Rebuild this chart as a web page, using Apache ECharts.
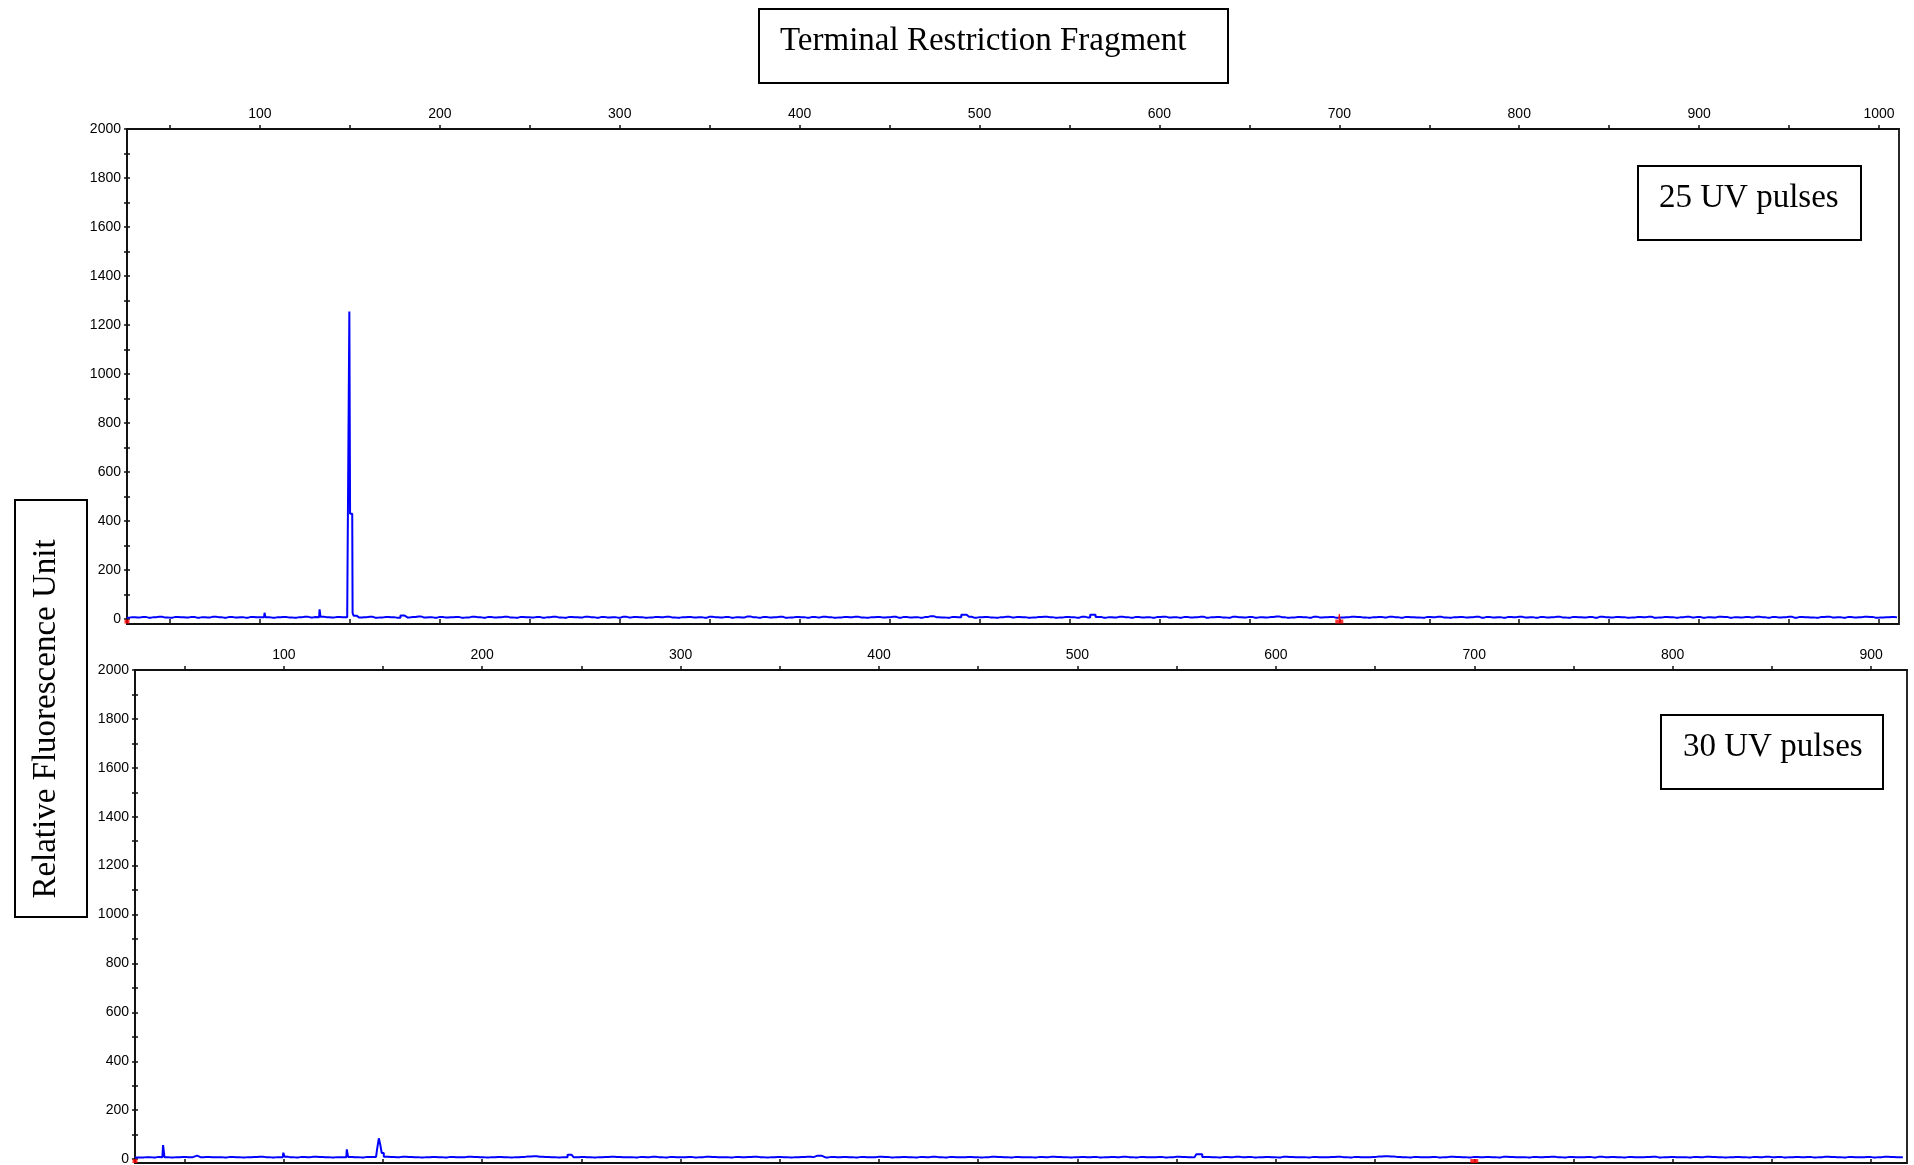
<!DOCTYPE html>
<html>
<head>
<meta charset="utf-8">
<script src="https://cdn.jsdelivr.net/npm/echarts@6/dist/echarts.min.js"></script>
<style>
  html, body { margin: 0; padding: 0; background: #fff; }
  #chart { width: 1914px; height: 1165px; }
</style>
</head>
<body>
<div id="chart"></div>
<script>
// ---- Electropherogram data (fragment size in bp vs. RFU) ----

// 25 UV pulses: baseline sampled every 3 bp from 26 bp
const topStart = 26;
const topStep = 3;
const topBaseline = [
  6,8,7,9,6,8,10,7,6,9,8,7,9,6,8,7,10,8,6,9,
  7,8,6,9,8,7,10,6,8,9,7,6,8,10,7,9,6,8,7,9,
  8,6,9,7,8,10,6,7,9,8,6,8,7,9,11,7,8,6,9,7,
  8,9,6,7,10,8,6,9,7,8,10,7,6,9,8,7,9,6,8,10,
  7,6,9,8,7,10,8,6,9,7,8,6,10,7,9,8,6,7,9,8,
  10,7,6,8,9,7,8,6,10,8,7,9,6,8,7,11,8,6,9,7,
  8,10,6,7,9,8,6,9,7,10,8,6,7,9,8,10,7,6,8,9,
  7,8,10,6,9,7,8,6,9,12,8,7,6,9,8,7,10,6,8,9,
  7,6,8,10,7,9,8,6,7,9,10,8,6,7,9,8,6,10,7,8,
  9,6,8,7,10,8,6,9,7,8,6,9,10,7,8,6,9,7,8,10,
  6,8,9,7,6,10,8,7,9,6,8,7,9,11,8,6,7,9,8,6,
  10,7,8,9,6,7,8,10,9,7,6,8,9,7,10,8,6,9,8,7,
  6,9,8,10,7,6,8,9,7,8,10,6,9,7,8,6,9,8,10,7,
  8,6,9,7,8,10,7,6,9,8,7,9,6,10,8,7,9,8,6,7,
  9,8,10,6,7,9,8,6,8,10,7,9,6,8,7,10,9,6,8,7,
  9,7,10,8,6,9,7,8,10,6,9,8,7,6,9,10,7,8,6,9,
  7,8,10,9,6,7,8,9,7
];
// 25 UV pulses: peaks
const topPeakSizes = [102.3, 102.8, 103.3, 132.9, 133.4, 133.9,
  148.5, 148.9, 149.5, 149.9, 150.3, 151.3, 151.7, 152.4,
  180.2, 491.7, 563.0];
const topPeakRFU = [8, 26, 8, 8, 40, 10,
  8, 230, 230, 1255, 430, 430, 25, 14,
  15, 18, 18];

// 30 UV pulses: baseline sampled every 3 bp from 25 bp
const bottomStart = 25;
const bottomStep = 3;
const bottomBaseline = [
  6,7,8,7,9,8,7,8,9,8,7,8,9,8,8,7,9,8,7,8,
  9,10,8,7,8,9,8,7,9,8,10,9,8,7,8,9,8,8,7,9,
  8,7,8,9,8,10,9,8,7,8,9,8,7,9,8,8,10,9,8,7,
  8,9,8,7,8,9,11,12,10,9,8,7,8,9,8,9,8,7,8,9,
  10,9,8,8,7,9,8,10,8,7,9,8,8,9,7,8,10,9,8,8,
  7,9,8,9,10,8,7,8,9,8,7,8,9,10,8,8,7,9,8,9,
  8,7,9,8,8,10,9,7,8,9,8,7,9,8,10,8,7,9,8,8,
  9,8,7,8,10,9,8,7,9,8,8,7,9,8,10,9,8,7,8,9,
  8,9,7,8,9,8,10,8,7,9,8,8,9,7,8,10,9,8,7,8,
  9,8,7,9,8,10,8,9,7,8,9,8,7,10,9,8,8,7,9,8,
  8,9,10,8,7,9,8,8,9,11,12,11,9,8,7,9,8,8,9,7,
  8,10,9,8,7,9,8,9,8,7,10,9,8,8,7,9,8,9,10,8,
  7,9,8,8,9,7,10,8,9,8,7,9,8,8,9,10,7,8,9,8,
  8,7,9,8,10,9,8,7,8,9,8,7,9,8,10,8,9,7,8,9,
  8,9,7,8,10,9,8,7,9,8,8,9,7,8,10,9,8,8
];
// 30 UV pulses: peaks
const bottomPeakSizes = [38.8, 39.5, 40.2, 56.3, 99.5, 100.0, 100.8,
  131.5, 132.0, 132.8, 146.5, 147.5, 148.3, 148.9, 149.8, 151.0,
  245.0, 369.0, 560.8];
const bottomPeakRFU = [8, 57, 8, 14, 8, 26, 10,
  8, 40, 9, 9, 40, 85, 60, 25, 10,
  18, 14, 20];

// size-standard marker and its trace blip
const standardSize = [700];
const standardBlipSizes = [699.6, 700.0, 700.4];
const standardBlipRFU = [0, 20, 0];

// axis ticks and labels
const topSizeTicks = [50,100,150,200,250,300,350,400,450,500,550,600,650,700,750,800,850,900,950,1000];
const topSizeLabels = [100,200,300,400,500,600,700,800,900,1000];
const bottomSizeTicks = [50,100,150,200,250,300,350,400,450,500,550,600,650,700,750,800,850,900];
const bottomSizeLabels = [100,200,300,400,500,600,700,800,900];
const rfuTicks = [0,100,200,300,400,500,600,700,800,900,1000,1100,1200,1300,1400,1500,1600,1700,1800,1900,2000];
const rfuLabels = [0,200,400,600,800,1000,1200,1400,1600,1800,2000];

// merge the sampled baseline with the peak points
function buildTrace(start, step, base, pSizes, pRFU) {
  const pts = [];
  base.forEach(function (v, i) {
    const x = start + i * step;
    if (!pSizes.some(function (p) { return Math.abs(p - x) < 1.6; })) pts.push([x, v]);
  });
  pSizes.forEach(function (s, i) { pts.push([s, pRFU[i]]); });
  pts.sort(function (a, b) { return a[0] - b[0]; });
  return pts;
}

const topTrace = buildTrace(topStart, topStep, topBaseline, topPeakSizes, topPeakRFU);
const bottomTrace = buildTrace(bottomStart, bottomStep, bottomBaseline, bottomPeakSizes, bottomPeakRFU);

const AXIS = '#111';
const plain = function (v) { return String(v); };
const labelFont = { fontFamily: 'Liberation Sans', fontSize: 14, color: '#000', formatter: plain };

function sizeAxes(gridIndex, min, max, ticks, labels) {
  const base = {
    type: 'value', gridIndex: gridIndex, position: 'top', min: min, max: max,
    splitLine: { show: false }
  };
  return [
    Object.assign({}, base, {
      axisLine: { show: true, onZero: false, lineStyle: { color: AXIS, width: 1.8 } },
      axisTick: { show: true, inside: false, length: 4, customValues: ticks, lineStyle: { color: AXIS, width: 1.5 } },
      axisLabel: Object.assign({ show: true, customValues: labels, margin: 8 }, labelFont)
    }),
    Object.assign({}, base, {
      axisLine: { show: false },
      axisTick: { show: true, inside: true, length: 4, customValues: ticks, lineStyle: { color: AXIS, width: 1.5 } },
      axisLabel: { show: false }
    })
  ];
}

function rfuAxes(gridIndex, min) {
  const base = {
    type: 'value', gridIndex: gridIndex, position: 'left', min: min, max: 2000,
    splitLine: { show: false }
  };
  return [
    Object.assign({}, base, {
      axisLine: { show: true, onZero: false, lineStyle: { color: AXIS, width: 1.8 } },
      axisTick: { show: true, inside: false, length: 3, customValues: rfuTicks, lineStyle: { color: AXIS, width: 1.5 } },
      axisLabel: Object.assign({ show: true, customValues: rfuLabels, margin: 6 }, labelFont)
    }),
    Object.assign({}, base, {
      axisLine: { show: false },
      axisTick: { show: true, inside: true, length: 3, customValues: rfuTicks, lineStyle: { color: AXIS, width: 1.5 } },
      axisLabel: { show: false }
    })
  ];
}

const topMin = 26.1, topMax = 1011.1;
const bottomMin = 25, bottomMax = 918.1;

const traceStyle = { color: '#0000ff', width: 2 };

const option = {
  animation: false,
  backgroundColor: '#fff',
  grid: [
    { left: 127, top: 129, width: 1772, height: 495, show: true, borderColor: AXIS, borderWidth: 1.8, outerBoundsMode: 'none' },
    { left: 135, top: 670, width: 1772, height: 493, show: true, borderColor: AXIS, borderWidth: 1.8, outerBoundsMode: 'none' }
  ],
  xAxis: [].concat(
    sizeAxes(0, topMin, topMax, topSizeTicks, topSizeLabels),
    sizeAxes(1, bottomMin, bottomMax, bottomSizeTicks, bottomSizeLabels)
  ),
  yAxis: [].concat(rfuAxes(0, -20), rfuAxes(1, -16)),
  series: [
    {
      name: '25 UV pulses', type: 'line', xAxisIndex: 0, yAxisIndex: 0, step: 'middle',
      data: topTrace, showSymbol: false, symbol: 'none',
      lineStyle: traceStyle, z: 3
    },
    {
      type: 'line', xAxisIndex: 0, yAxisIndex: 0,
      data: standardBlipSizes.map(function (s, i) { return [s, standardBlipRFU[i]]; }),
      symbol: 'none', lineStyle: { color: '#ff0000', width: 1 }, z: 4
    },
    {
      type: 'scatter', xAxisIndex: 0, yAxisIndex: 0, clip: false,
      data: standardSize.map(function (s) { return [s, -10]; }),
      symbol: 'rect', symbolSize: [8, 4], itemStyle: { color: '#ff0000' }, z: 5
    },
    {
      type: 'scatter', xAxisIndex: 0, yAxisIndex: 0, clip: false,
      data: [[topMin, -10]],
      symbol: 'rect', symbolSize: [5, 4], itemStyle: { color: '#ff0000' }, z: 5
    },
    {
      name: '30 UV pulses', type: 'line', xAxisIndex: 2, yAxisIndex: 2, step: 'middle',
      data: bottomTrace, showSymbol: false, symbol: 'none',
      lineStyle: traceStyle, z: 3
    },
    {
      type: 'scatter', xAxisIndex: 2, yAxisIndex: 2, clip: false,
      data: standardSize.map(function (s) { return [s, -8]; }),
      symbol: 'rect', symbolSize: [8, 4], itemStyle: { color: '#ff0000' }, z: 5
    },
    {
      type: 'scatter', xAxisIndex: 2, yAxisIndex: 2, clip: false,
      data: [[bottomMin, -8]],
      symbol: 'rect', symbolSize: [5, 4], itemStyle: { color: '#ff0000' }, z: 5
    }
  ],
  graphic: [
    {
      type: 'rect', shape: { x: 759, y: 9, width: 469, height: 74 },
      style: { fill: '#fff', stroke: '#000', lineWidth: 2 }
    },
    {
      type: 'text', x: 780, y: 41,
      style: { text: 'Terminal Restriction Fragment', font: '33px "Liberation Serif"', fill: '#000', textAlign: 'left', textVerticalAlign: 'middle' }
    },
    {
      type: 'rect', shape: { x: 1638, y: 166, width: 223, height: 74 },
      style: { fill: '#fff', stroke: '#000', lineWidth: 2 }
    },
    {
      type: 'text', x: 1659, y: 198,
      style: { text: '25 UV pulses', font: '33px "Liberation Serif"', fill: '#000', textAlign: 'left', textVerticalAlign: 'middle' }
    },
    {
      type: 'rect', shape: { x: 1661, y: 715, width: 222, height: 74 },
      style: { fill: '#fff', stroke: '#000', lineWidth: 2 }
    },
    {
      type: 'text', x: 1683, y: 747,
      style: { text: '30 UV pulses', font: '33px "Liberation Serif"', fill: '#000', textAlign: 'left', textVerticalAlign: 'middle' }
    },
    {
      type: 'rect', shape: { x: 15, y: 500, width: 72, height: 417 },
      style: { fill: '#fff', stroke: '#000', lineWidth: 2 }
    },
    {
      type: 'text', x: 46, y: 719, rotation: Math.PI / 2,
      style: { text: 'Relative Fluorescence Unit', font: '33px "Liberation Serif"', fill: '#000', textAlign: 'center', textVerticalAlign: 'middle' }
    }
  ]
};

const chart = echarts.init(document.getElementById('chart'), null, { renderer: 'canvas' });
chart.setOption(option);
</script>
</body>
</html>
